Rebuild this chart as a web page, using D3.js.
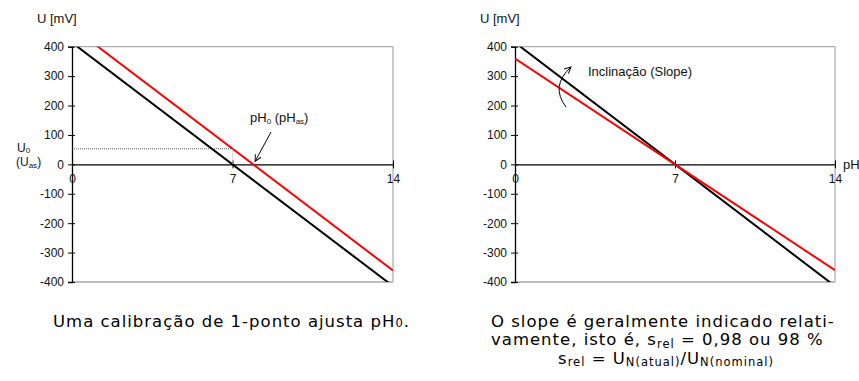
<!DOCTYPE html>
<meta charset="utf-8">
<script src="https://d3js.org/d3.v7.min.js"></script>
<style>
  body { margin: 0; background: #fff; }
  text { font-family: "Liberation Sans", Arial, sans-serif; fill: #111; }
  .cap { font-family: "DejaVu Sans", Verdana, sans-serif; font-size: 16.5px; letter-spacing: 1px; fill: #000; }
</style>
<div id="chart"></div>
<script>
// values (pH vs. electrode potential, mV)
var phTicks = [0, 7, 14];
var uTicks = [400, 300, 200, 100, 0, -100, -200, -300, -400];

// left panel: ideal line vs. line shifted by a 1-point calibration
var leftIdeal = [{ph: 0, u: 414}, {ph: 14, u: -414}];
var leftShift = [{ph: 0, u: 467}, {ph: 14, u: -361}];
var u0 = 53;        // U0 (Uas) at pH 7
var ph0 = 7.9;      // pH0 (pHas)

// right panel: ideal line vs. lower slope
var rightIdeal = [{ph: 0, u: 414}, {ph: 14, u: -414}];
var rightSlope = [{ph: 0, u: 360}, {ph: 14, u: -360}];

var W = 859, H = 381;
var svg = d3.select("#chart").append("svg")
  .attr("width", W).attr("height", H);

var y = d3.scaleLinear().domain([-400, 400]).range([282, 46.7]);

function panel(id, x0, x1, black, red, withPhLabel) {
  var x = d3.scaleLinear().domain([0, 14]).range([x0, x1]);
  var g = svg.append("g");

  // clip so lines stop at the frame
  svg.append("clipPath").attr("id", id)
    .append("rect")
      .attr("x", x(0)).attr("y", y(400))
      .attr("width", x(14) - x(0)).attr("height", y(-400) - y(400));

  // grey frame (top, right, bottom)
  g.append("line").attr("x1", x(0)).attr("x2", x(14)).attr("y1", y(400)).attr("y2", y(400))
    .attr("stroke", "#999").attr("stroke-width", 1);
  g.append("line").attr("x1", x(14)).attr("x2", x(14)).attr("y1", y(400)).attr("y2", y(-400))
    .attr("stroke", "#999").attr("stroke-width", 1);
  g.append("line").attr("x1", x(0)).attr("x2", x(14)).attr("y1", y(-400)).attr("y2", y(-400))
    .attr("stroke", "#bbb").attr("stroke-width", 2);

  // y axis
  var ya = g.append("g")
    .attr("transform", "translate(" + x(0) + ",0)")
    .call(d3.axisLeft(y).tickValues(uTicks).tickSize(4).tickFormat(function(d) { return String(d); }));
  ya.select(".domain").attr("stroke", "#000").attr("stroke-width", 1.3);
  ya.selectAll(".tick line").attr("x1", 3).attr("x2", -4).attr("stroke", "#000");
  ya.selectAll(".tick text").attr("x", -8).style("font-size", "12px")
    .style("font-family", "Liberation Sans, Arial, sans-serif").attr("fill", "#111");

  // x axis on U = 0
  var xa = g.append("g")
    .attr("transform", "translate(0," + y(0) + ")")
    .call(d3.axisBottom(x).tickValues(phTicks).tickSize(4).tickSizeOuter(0));
  xa.select(".domain").attr("stroke", "#000").attr("stroke-width", 1.3);
  xa.selectAll(".tick line").attr("y1", -4).attr("y2", 4).attr("stroke", "#000");
  xa.selectAll(".tick text").attr("y", 10).style("font-size", "12px")
    .style("font-family", "Liberation Sans, Arial, sans-serif").attr("fill", "#111");

  // axis title
  g.append("text").attr("x", x(0) - 35).attr("y", 23)
    .style("font-size", "13px").text("U [mV]");
  if (withPhLabel) {
    g.append("text").attr("x", x(14) + 8).attr("y", y(0) + 4.5)
      .style("font-size", "13px").text("pH");
  }

  var line = d3.line().x(function(d) { return x(d.ph); }).y(function(d) { return y(d.u); });
  var lines = g.append("g").attr("clip-path", "url(#" + id + ")");
  lines.append("path").datum(black).attr("d", line)
    .attr("fill", "none").attr("stroke", "#000").attr("stroke-width", 2);
  lines.append("path").datum(red).attr("d", line)
    .attr("fill", "none").attr("stroke", "#f00").attr("stroke-width", 2);

  return {g: g, x: x};
}

// arrowhead
svg.append("defs").append("marker")
  .attr("id", "arr").attr("viewBox", "0 0 10 10").attr("refX", 9).attr("refY", 5)
  .attr("markerWidth", 8).attr("markerHeight", 8).attr("orient", "auto")
  .append("path").attr("d", "M1,1 L9,5 L1,9").attr("fill", "none")
  .attr("stroke", "#000").attr("stroke-width", 1.2);

// ---- left panel
var L = panel("clipL", 72, 393, leftIdeal, leftShift, false);
L.g.append("line").attr("x1", L.x(0)).attr("x2", L.x(7)).attr("y1", y(u0)).attr("y2", y(u0))
  .attr("stroke", "#333").attr("stroke-width", 0.8).attr("stroke-dasharray", "1,1");
L.g.append("line").attr("x1", L.x(7)).attr("x2", L.x(7)).attr("y1", y(u0)).attr("y2", y(0))
  .attr("stroke", "#aaa").attr("stroke-width", 0.8).attr("stroke-dasharray", "1,1");

var u0lab = L.g.append("text").attr("x", 17).attr("y", 152).style("font-size", "12px");
u0lab.append("tspan").text("U");
u0lab.append("tspan").attr("dy", 1).style("font-size", "8px").text("0");
var uaslab = L.g.append("text").attr("x", 16).attr("y", 166).style("font-size", "12px");
uaslab.append("tspan").text("(U");
uaslab.append("tspan").attr("dy", 2).style("font-size", "8px").text("as");
uaslab.append("tspan").attr("dy", -2).text(")");

var phlab = L.g.append("text").attr("x", 250).attr("y", 122).style("font-size", "13px");
phlab.append("tspan").text("pH");
phlab.append("tspan").attr("dy", 2).style("font-size", "8px").text("0");
phlab.append("tspan").attr("dy", -2).text(" (pH");
phlab.append("tspan").attr("dy", 2).style("font-size", "8px").text("as");
phlab.append("tspan").attr("dy", -2).text(")");

L.g.append("line").attr("x1", 271).attr("y1", 132)
  .attr("x2", L.x(ph0) + 2).attr("y2", y(0) - 3)
  .attr("stroke", "#000").attr("stroke-width", 1).attr("marker-end", "url(#arr)");

// ---- right panel
var R = panel("clipR", 515, 835, rightIdeal, rightSlope, true);
R.g.append("text").attr("x", 588).attr("y", 76).style("font-size", "13px")
  .text("Inclinação (Slope)");
R.g.append("path").attr("d", "M566,107 Q550,86 571,67")
  .attr("fill", "none").attr("stroke", "#000").attr("stroke-width", 1)
  .attr("marker-end", "url(#arr)");

// ---- captions
var c1 = svg.append("text").attr("class", "cap").attr("x", 53).attr("y", 327);
c1.append("tspan").text("Uma calibração de 1-ponto ajusta pH");
c1.append("tspan").style("font-size", "11.5px").text("0");
c1.append("tspan").text(".");

svg.append("text").attr("class", "cap").attr("x", 491).attr("y", 326.5)
  .text("O slope é geralmente indicado relati-");

var c2 = svg.append("text").attr("class", "cap").attr("x", 491).attr("y", 345);
c2.append("tspan").text("vamente, isto é, s");
c2.append("tspan").attr("dy", 2.5).style("font-size", "11.5px").text("rel");
c2.append("tspan").attr("dy", -2.5).text(" = 0,98 ou 98 %");

var c3 = svg.append("text").attr("class", "cap").attr("x", 666).attr("y", 363.5)
  .attr("text-anchor", "middle");
c3.append("tspan").text("s");
c3.append("tspan").attr("dy", 2.5).style("font-size", "11.5px").text("rel");
c3.append("tspan").attr("dy", -2.5).text(" = U");
c3.append("tspan").attr("dy", 2.5).style("font-size", "11.5px").text("N(atual)");
c3.append("tspan").attr("dy", -2.5).text("/U");
c3.append("tspan").attr("dy", 2.5).style("font-size", "11.5px").text("N(nominal)");
</script>
